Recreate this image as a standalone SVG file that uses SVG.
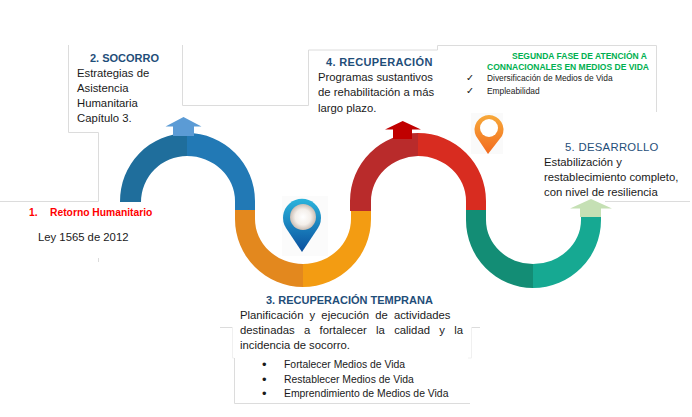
<svg xmlns="http://www.w3.org/2000/svg" width="692" height="417" viewBox="0 0 692 417">
<defs>
<style>
text{font-family:"Liberation Sans",Arial,sans-serif;font-size:11.3px;fill:#1a1a1a}
.h{font-weight:700;fill:#1f4e79;font-size:11px}
.g{font-weight:700;fill:#00b050;font-size:8.500px}
.s{font-size:8.400px}
.c{font-size:9.500px;font-family:"DejaVu Sans",sans-serif}
.l{font-size:10.400px}
.d{font-size:13px}
.r{font-weight:700;fill:#ff0000;font-size:10.300px}
.b{fill:none;stroke:#dcdcdc;stroke-width:1}
.f{fill:none;stroke:#f0f0f0;stroke-width:1}
</style>
<linearGradient id="pb" x1="0" y1="0" x2="0" y2="1"><stop offset="0" stop-color="#2bb4dc"/><stop offset="1" stop-color="#0a4f9e"/></linearGradient>
<linearGradient id="po" x1="0" y1="0" x2="0" y2="1"><stop offset="0" stop-color="#f7a93a"/><stop offset="1" stop-color="#f26a1f"/></linearGradient>
<radialGradient id="pw"><stop offset="0" stop-color="#fff"/><stop offset=".6" stop-color="#f4efea"/><stop offset="1" stop-color="#c9bdb4"/></radialGradient>
</defs>
<rect width="692" height="417" fill="#fff"/>
<g id="connectors">
<path class="b" d="M68.500 45V132.500H98.500V201.500H0M98.500 258V262"/>
<path class="b" d="M182.500 45V105.500H308.500V50H437.500V45.500H656.500V112"/>
<path class="b" d="M605 201.500H690"/>
<path class="b" d="M220 327.500H232M472 327.500H480M234.500 358V403.500H470"/>
<path class="f" d="M232.500 327V358H234M471.500 327V358H468"/>
<path d="M120 202A67.500 68 0 0 1 187 133V156A46 46 0 0 0 141 202Z" fill="#1f6e9c"/>
<path d="M187 133A68 68 0 0 1 255 201V211H235V201A48 45 0 0 0 187 156Z" fill="#2279b5"/>
<path d="M235 210V219A68 68 0 0 0 303 287V264A48 45 0 0 1 255 219V210Z" fill="#e3881e"/>
<path d="M303 287A68 68 0 0 0 371 219V210H351V219A48 45 0 0 1 303 264Z" fill="#f39c12"/>
<path d="M350 211V201A68 68 0 0 1 418 133V156A48 45 0 0 0 371 201V211Z" fill="#b92b2b"/>
<path d="M418 133A68 68 0 0 1 486 201V211H466V201A48 45 0 0 0 418 156Z" fill="#d82c20"/>
<path d="M466 210V220A67 68 0 0 0 533 288V264A47 44 0 0 1 486 220V210Z" fill="#138d75"/>
<path d="M533 288A68 68 0 0 0 601 220V217H581V220A48 44 0 0 1 533 264Z" fill="#16a992"/>
<path d="M183.500 117L201.500 126.500H194V136H173V126.500H165.500Z" fill="#5b9bd5"/>
<path d="M402.700 121L421 129.500H412V139H393V129.500H385Z" fill="#c00000"/>
<path d="M591 199L612 208.500H601V217H580V208.500H570Z" fill="#c5e0b4"/>
</g>
<g id="pin-azul">
<rect x="282" y="196" width="46" height="60" fill="#fbfbfb"/>
<path d="M302 252L286 228A19 19 0 1 1 318 228Z" fill="url(#pb)"/>
<circle cx="303" cy="217" r="13" fill="url(#pw)"/>
</g>
<g id="pin-naranja">
<rect x="471" y="113" width="32" height="41" fill="#fafafa"/>
<path d="M488 154L476 136A14.500 14.500 0 1 1 502 136Z" fill="url(#po)"/>
<circle cx="489" cy="128" r="9" fill="#fff"/>
</g>
<g id="n1">
<text x="29" y="216" class="r">1.</text>
<text x="50" y="216" class="r">Retorno Humanitario</text>
<text x="38" y="241">Ley 1565 de 2012</text>
</g>
<g id="n2">
<text x="90" y="62" class="h">2. SOCORRO</text>
<text x="77" y="77">Estrategias de</text>
<text x="77" y="92">Asistencia</text>
<text x="77" y="107">Humanitaria</text>
<text x="77" y="122">Capítulo 3.</text>
</g>
<g id="n3">
<text x="266" y="304" class="h">3. RECUPERACIÓN TEMPRANA</text>
<text x="240" y="319" style="word-spacing:3px">Planificación y ejecución de actividades</text>
<text x="240" y="334" style="word-spacing:6.200px">destinadas a fortalecer la calidad y la</text>
<text x="240" y="349">incidencia de socorro.</text>
<text x="262" y="369" class="d">•</text><text x="284" y="368" class="l">Fortalecer Medios de Vida</text>
<text x="262" y="384" class="d">•</text><text x="284" y="383" class="l">Restablecer Medios de Vida</text>
<text x="262" y="398" class="d">•</text><text x="284" y="397" class="l">Emprendimiento de Medios de Vida</text>
</g>
<g id="n4">
<text x="326" y="66" class="h" style="letter-spacing:.35px">4. RECUPERACIÓN</text>
<text x="318" y="81">Programas sustantivos</text>
<text x="318" y="96">de rehabilitación a más</text>
<text x="318" y="112">largo plazo.</text>
</g>
<g id="fase2">
<text x="512" y="59" class="g">SEGUNDA FASE DE ATENCIÓN A</text>
<text x="487" y="70" class="g">CONNACIONALES EN MEDIOS DE VIDA</text>
<text x="466" y="81" class="c">✓</text><text x="487" y="81" class="s">Diversificación de Medios de Vida</text>
<text x="466" y="94" class="c">✓</text><text x="487" y="94" class="s">Empleabilidad</text>
</g>
<g id="n5">
<text x="565" y="151" class="h" style="font-weight:400;font-size:11.300px;letter-spacing:.3px">5. DESARROLLO</text>
<text x="544" y="166">Estabilización y</text>
<text x="544" y="181">restablecimiento completo,</text>
<text x="544" y="196">con nivel de resiliencia</text>
</g>
</svg>
